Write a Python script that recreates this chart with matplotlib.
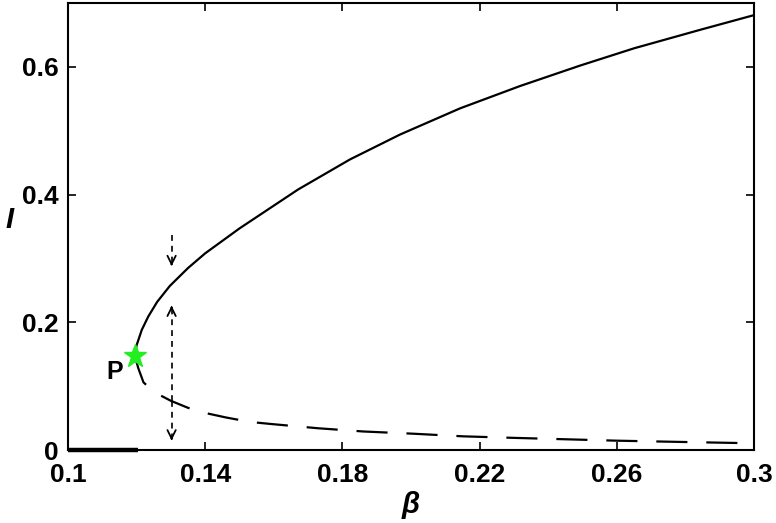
import matplotlib
matplotlib.use("Agg")
import matplotlib.pyplot as plt

plt.rcParams['font.family'] = ['Liberation Sans', 'DejaVu Sans']
plt.rcParams['mathtext.fontset'] = 'custom'
plt.rcParams['mathtext.bfit'] = 'Liberation Sans:bold:italic'

# Stable (upper) branch
upper_beta = [0.1195, 0.1200, 0.1215, 0.1234, 0.1260, 0.1297, 0.1350, 0.1400,
              0.1500, 0.1671, 0.1822, 0.1968, 0.2143, 0.2318, 0.2493, 0.2650,
              0.2843, 0.3000]
upper_I = [0.147, 0.164, 0.188, 0.209, 0.232, 0.257, 0.285, 0.308,
           0.347, 0.408, 0.455, 0.494, 0.535, 0.570, 0.602, 0.629,
           0.658, 0.681]

# Unstable (lower) branch
lower_beta = [0.1195, 0.1205, 0.1220, 0.1250, 0.1300, 0.1350, 0.1400, 0.1460, 0.1530,
              0.1594, 0.1730, 0.1861, 0.2007, 0.2152, 0.2300, 0.2600, 0.2800, 0.3000]
lower_I = [0.147, 0.128, 0.106, 0.091, 0.077, 0.066, 0.058, 0.051, 0.044,
           0.0406, 0.034, 0.029, 0.0255, 0.0214, 0.019, 0.0146, 0.0125, 0.0105]

# Disease-free stable segment
dfe_beta = [0.1, 0.1205]
dfe_I = [0.0, 0.0]

# Bifurcation point P
p_beta, p_I = 0.1195, 0.147
p_label_pos = (0.1137, 0.122)

# Arrows (beta, start I, end I)
arrows = [(0.1302, 0.336, 0.288), (0.1302, 0.077, 0.226), (0.1302, 0.077, 0.015)]

xticks = [0.1, 0.14, 0.18, 0.22, 0.26, 0.3]
xticklabels = ['0.1', '0.14', '0.18', '0.22', '0.26', '0.3']
yticks = [0, 0.2, 0.4, 0.6]
yticklabels = ['0', '0.2', '0.4', '0.6']

fig = plt.figure(figsize=(7.76, 5.23), dpi=100)
ax = fig.add_axes([68/776, 1-450/523, (754-68)/776, (450-3)/523])

ax.plot(upper_beta, upper_I, color='black', lw=1.6, solid_joinstyle='round')
ax.plot(lower_beta, lower_I, color='black', lw=1.6, dashes=(14, 8.5))
ax.plot(dfe_beta, dfe_I, color='black', lw=3.2, clip_on=False, solid_capstyle='butt')

for b, s, e in arrows:
    ax.plot([b, b], [s, e], color='black', lw=1.2, dashes=(3.5, 3.0))
    d = 0.004 if e > s else -0.004
    ax.annotate('', xy=(b, e), xytext=(b, e - d),
                arrowprops=dict(arrowstyle='->', color='black', lw=1.3,
                                mutation_scale=15, shrinkA=0, shrinkB=0))

ax.plot([p_beta], [p_I], marker='*', color='#22ee22', markersize=17,
        markeredgecolor='#22ee22', zorder=5)
ax.text(p_label_pos[0], p_label_pos[1], 'P', fontsize=18, fontweight='bold',
        ha='center', va='center')

ax.set_xlim(0.1, 0.3)
ax.set_ylim(0, 0.7)
ax.set_xticks(xticks)
ax.set_xticklabels(xticklabels)
ax.set_yticks(yticks)
ax.set_yticklabels(yticklabels)
ax.tick_params(direction='in', length=6, width=1.2, top=True, right=True,
               labelsize=19)
ax.tick_params(axis='x', pad=9)
ax.tick_params(axis='y', pad=7)
for lab in ax.get_xticklabels() + ax.get_yticklabels():
    lab.set_fontweight('bold')
for sp in ax.spines.values():
    sp.set_linewidth(1.5)

ax.set_xlabel(r'$\boldsymbol{\beta}$', fontsize=21, labelpad=2)
ax.set_ylabel('I', fontsize=21, fontweight='bold', fontstyle='italic', rotation=0,
              ha='center', va='center')
ax.yaxis.set_label_coords(-0.085, 0.515)

fig.savefig('out.png', dpi=100)
